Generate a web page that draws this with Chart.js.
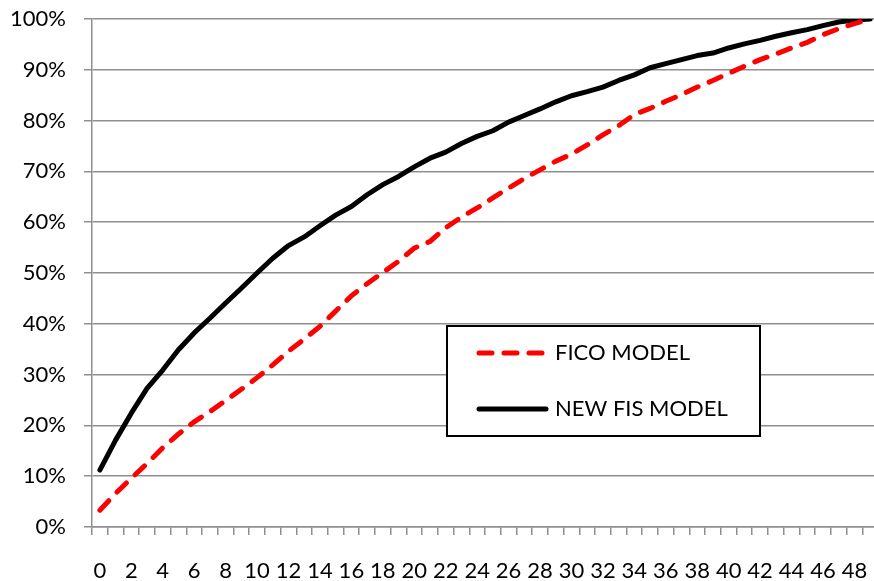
<!DOCTYPE html>
<html>
<head>
<meta charset="utf-8">
<script src="https://cdn.jsdelivr.net/npm/chart.js@4"></script>
<style>
  html, body { margin: 0; padding: 0; background: #ffffff; overflow: hidden; }
  #wrap { width: 874px; height: 581px; overflow: hidden; position: relative; }
  canvas { display: block; }
</style>
</head>
<body>
<div id="wrap"><canvas id="c" width="878" height="581" style="width:878px;height:581px"></canvas></div>
<script>
const categories = [];
for (let i = 0; i < 50; i++) categories.push(String(i));

const seriesNames = ['FICO MODEL', 'NEW FIS MODEL'];

const ficoModel = [
  0.033, 0.066, 0.096, 0.125, 0.156, 0.183, 0.207, 0.227, 0.249, 0.271,
  0.294, 0.319, 0.346, 0.370, 0.395, 0.425, 0.455, 0.479, 0.501, 0.523,
  0.549, 0.562, 0.589, 0.610, 0.628, 0.648, 0.667, 0.686, 0.703, 0.720,
  0.734, 0.752, 0.772, 0.790, 0.812, 0.824, 0.838, 0.851, 0.866, 0.879,
  0.893, 0.907, 0.920, 0.931, 0.943, 0.954, 0.969, 0.981, 0.991, 1.000
];

const newFisModel = [
  0.112, 0.171, 0.224, 0.273, 0.309, 0.349, 0.382, 0.411, 0.441, 0.470,
  0.500, 0.529, 0.554, 0.571, 0.593, 0.614, 0.631, 0.654, 0.674, 0.690,
  0.709, 0.726, 0.738, 0.755, 0.769, 0.780, 0.797, 0.810, 0.823, 0.837,
  0.849, 0.857, 0.866, 0.879, 0.890, 0.904, 0.912, 0.920, 0.928, 0.933,
  0.943, 0.951, 0.958, 0.966, 0.973, 0.979, 0.987, 0.994, 0.998, 1.000
];

const yTicks = [0, 0.1, 0.2, 0.3, 0.4, 0.5, 0.6, 0.7, 0.8, 0.9, 1.0];

const FONT = 'Lato, "Liberation Sans", sans-serif';
const GRID = '#8f8f8f';

const boxLegend = {
  id: 'boxLegend',
  afterDatasetsDraw(chart) {
    const ctx = chart.ctx;
    const bx = 447, by = 326, bw = 313, bh = 110;
    ctx.save();
    ctx.fillStyle = '#ffffff';
    ctx.fillRect(bx, by, bw, bh);
    ctx.strokeStyle = '#000000';
    ctx.lineWidth = 2;
    ctx.strokeRect(bx, by, bw, bh);
    const rows = [353, 409];
    chart.data.datasets.forEach((ds, i) => {
      const y = rows[i];
      ctx.beginPath();
      ctx.strokeStyle = ds.borderColor;
      ctx.lineWidth = ds.borderWidth;
      ctx.lineCap = 'round';
      ctx.setLineDash(ds.borderDash || []);
      ctx.moveTo(479, y);
      ctx.lineTo(546, y);
      ctx.stroke();
      ctx.setLineDash([]);
      ctx.fillStyle = '#000000';
      ctx.font = '22px ' + FONT;
      ctx.textBaseline = 'middle';
      ctx.textAlign = 'left';
      ctx.fillText(ds.label, 555, y);
    });
    ctx.restore();
  }
};

new Chart(document.getElementById('c'), {
  type: 'line',
  data: {
    labels: categories,
    datasets: [
      {
        label: seriesNames[0],
        data: ficoModel,
        borderColor: '#ff0000',
        borderWidth: 5,
        borderDash: [13, 12],
        borderCapStyle: 'round',
        pointRadius: 0,
        tension: 0,
        fill: false
      },
      {
        label: seriesNames[1],
        data: newFisModel,
        borderColor: '#000000',
        borderWidth: 5,
        borderCapStyle: 'round',
        borderJoinStyle: 'round',
        pointRadius: 0,
        tension: 0,
        fill: false
      }
    ]
  },
  options: {
    responsive: false,
    devicePixelRatio: 1,
    animation: false,
    layout: { padding: { left: 10, right: 0, top: 19, bottom: 0 } },
    plugins: {
      legend: { display: false },
      tooltip: { enabled: false },
      title: { display: false }
    },
    scales: {
      x: {
        type: 'category',
        offset: true,
        grid: {
          offset: true,
          drawOnChartArea: false,
          drawTicks: true,
          tickLength: 8,
          color: GRID,
          lineWidth: 1.5
        },
        border: { display: true, color: GRID, width: 1.5 },
        ticks: {
          autoSkip: false,
          maxRotation: 0,
          minRotation: 0,
          padding: 23,
          color: '#000000',
          font: { family: FONT, size: 22 },
          callback: function (value, index) {
            return index % 2 === 0 ? categories[index] : '';
          }
        },
        afterFit: function (scale) {
          scale.height = 54;
          scale.paddingLeft = 0;
          scale.paddingRight = 0;
        }
      },
      y: {
        min: 0,
        max: 1,
        afterBuildTicks: function (scale) {
          scale.ticks = yTicks.map(v => ({ value: v }));
        },
        grid: {
          color: GRID,
          lineWidth: 1.5,
          tickLength: 8,
          drawTicks: true
        },
        border: { display: true, color: GRID, width: 1.5 },
        ticks: {
          padding: 18,
          color: '#000000',
          font: { family: FONT, size: 22 },
          callback: function (value) { return Math.round(value * 100) + '%'; }
        },
        afterFit: function (scale) {
          scale.width = 82;
          scale.paddingTop = 0;
          scale.paddingBottom = 0;
        }
      }
    }
  },
  plugins: [boxLegend]
});
</script>
</body>
</html>
